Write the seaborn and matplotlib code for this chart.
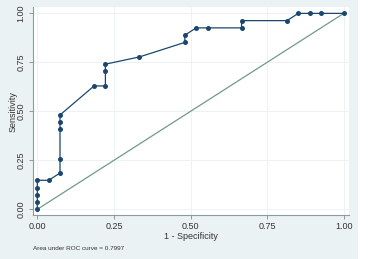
import numpy as np
import pandas as pd
import matplotlib
matplotlib.use("Agg")
import matplotlib.pyplot as plt
import seaborn as sns

# ROC curve points (counts out of 27 negatives / 27 positives)
fpr_counts = [0, 0, 0, 0, 0, 1, 2, 2, 2, 2, 2, 5, 6, 6, 6, 9, 13, 13, 14, 15, 18, 18, 22, 23, 24, 25, 27]
tpr_counts = [0, 1, 2, 3, 4, 4, 5, 7, 11, 12, 13, 17, 17, 19, 20, 21, 23, 24, 25, 25, 25, 26, 26, 27, 27, 27, 27]
n_neg = 27
n_pos = 27
ticks = [0.0, 0.25, 0.5, 0.75, 1.0]
tick_labels = ["0.00", "0.25", "0.50", "0.75", "1.00"]
diag = [0.0, 1.0]
auc_text = "Area under ROC curve = 0.7997"

df = pd.DataFrame({
    "fpr": np.array(fpr_counts) / n_neg,
    "tpr": np.array(tpr_counts) / n_pos,
})
ddf = pd.DataFrame({"x": diag, "y": diag})

sns.set_theme(style="white")
plt.rcParams["font.family"] = ["Liberation Sans", "DejaVu Sans"]

bg = "#EAF2F3"
navy = "#1A476F"
green = "#6E9C84"

fig = plt.figure(figsize=(3.70, 2.59), dpi=100)
fig.patch.set_facecolor("white")
# Stata-like outer background (does not cover right strip)
fig.add_artist(plt.Rectangle((0, 0), 358 / 370, 1, transform=fig.transFigure,
                             facecolor=bg, edgecolor="none", zorder=-10))

left, right = 32.5 / 370, 349 / 370
top, bottom = 1 - 7.3 / 259, 1 - 215 / 259
ax = fig.add_axes([left, bottom, right - left, top - bottom])
ax.set_facecolor("white")

sns.lineplot(data=ddf, x="x", y="y", ax=ax, color=green, lw=0.9,
             estimator=None, sort=False, zorder=2)
sns.lineplot(data=df, x="fpr", y="tpr", ax=ax, color=navy, lw=0.9,
             marker="o", markersize=3.6, markeredgewidth=0, markerfacecolor=navy,
             estimator=None, sort=False, zorder=3)

ax.set_xlim(-0.0157, 1.0173)
ax.set_ylim(-0.029, 1.031)
ax.set_xticks(ticks)
ax.set_xticklabels(tick_labels)
ax.set_yticks(ticks)
ax.set_yticklabels(tick_labels, rotation=90, va="center")
ax.grid(True, color="#EDF2F4", lw=0.7)
ax.set_axisbelow(True)

for s in ["top", "right"]:
    ax.spines[s].set_visible(False)
for s in ["left", "bottom"]:
    ax.spines[s].set_color("#8E9AA0")
    ax.spines[s].set_linewidth(0.8)

ax.tick_params(axis="both", which="major", length=3, width=0.7, color="#8E9AA0",
               labelsize=6.5, labelcolor="#333333", direction="out", pad=2,
               bottom=True, left=True)

ax.set_xlabel("1 - Specificity", fontsize=6.5, color="#333333", labelpad=1)
ax.set_ylabel("Sensitivity", fontsize=6.5, color="#333333", labelpad=-1)

fig.text(33 / 370, 1 - 248 / 259, auc_text, fontsize=4.6, color="#333333",
         ha="left", va="center")

fig.savefig("out.png", dpi=100, facecolor=fig.get_facecolor())
